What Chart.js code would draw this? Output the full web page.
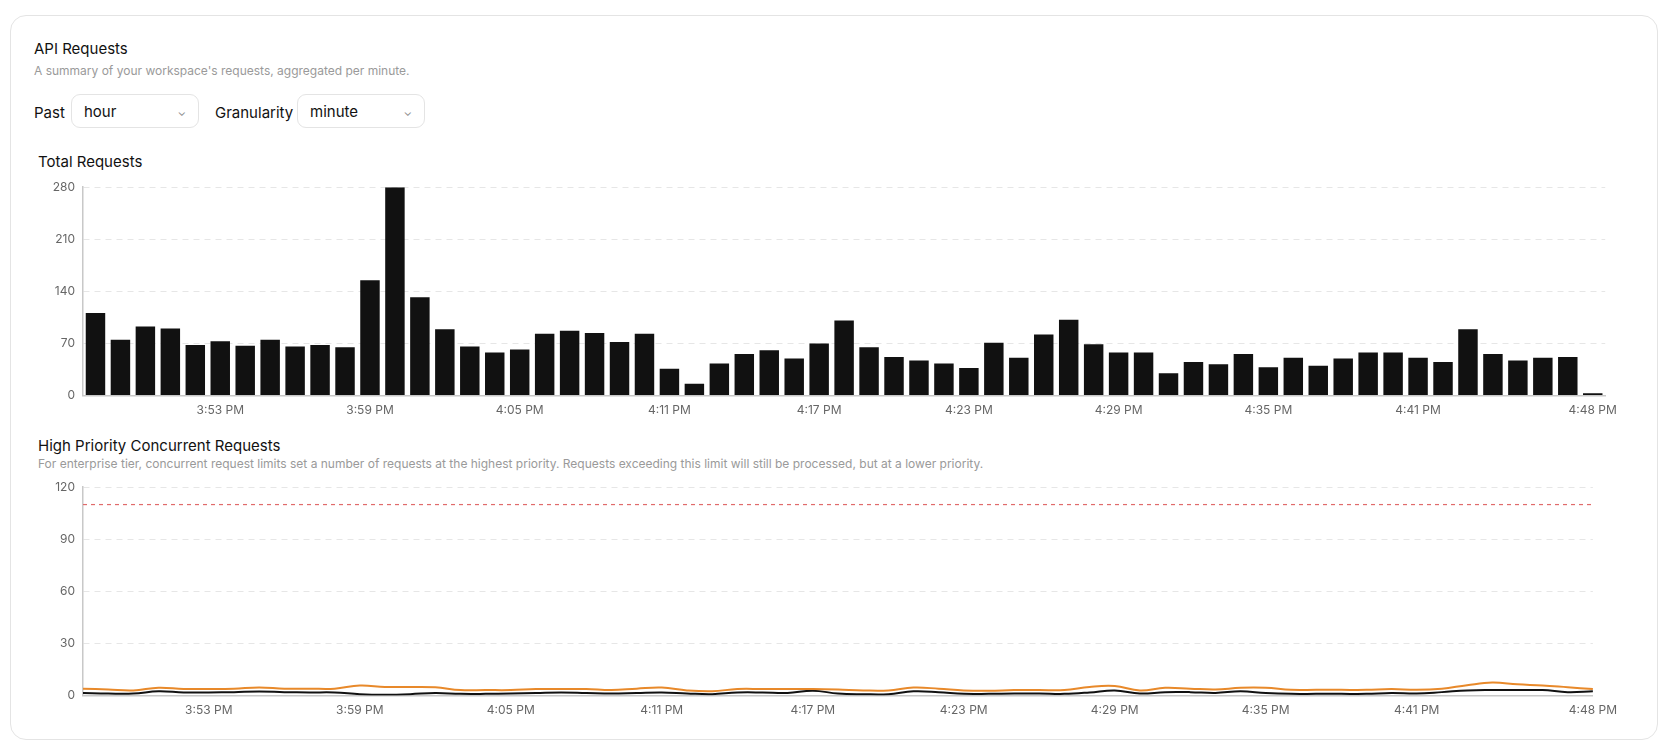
<!DOCTYPE html>
<html>
<head>
<meta charset="utf-8">
<script src="https://cdn.jsdelivr.net/npm/chart.js@4"></script>
<style>
  body { margin: 0; background: #fff; font-family: Inter, "Noto Sans", sans-serif; color: #111; }
  .card { position: absolute; left: 10px; top: 15px; width: 1646px; height: 723px; border: 1px solid #e4e4e4; border-radius: 16px; }
  .abs { position: absolute; white-space: nowrap; }
  .title { left: 34px; top: 39px; font-size: 15px; }
  .sub { left: 34px; top: 63px; font-size: 12px; color: #9a9a9a; }
  .lbl { font-size: 15px; top: 103px; }
  .sel { top: 94px; height: 34px; border: 1px solid #e4e4e4; border-radius: 9px; font-size: 15px; line-height: 34px; padding-left: 12px; box-sizing: border-box; }
  .sel span.chev { position: absolute; right: 12px; top: 0; color: #888; font-size: 11px; }
  .ctitle { font-size: 15px; }
</style>
</head>
<body>
<div class="card"></div>
<div class="abs title">API Requests</div>
<div class="abs sub">A summary of your workspace's requests, aggregated per minute.</div>
<div class="abs lbl" style="left:34px">Past</div>
<div class="abs sel" style="left:71px;width:128px">hour<span class="chev">&#8964;</span></div>
<div class="abs lbl" style="left:215px">Granularity</div>
<div class="abs sel" style="left:297px;width:128px">minute<span class="chev">&#8964;</span></div>
<div class="abs ctitle" style="left:38px;top:152px">Total Requests</div>
<div class="abs" style="left:30px;top:172px;width:1595px;height:254px"><canvas id="bars"></canvas></div>
<div class="abs ctitle" style="left:38px;top:436px">High Priority Concurrent Requests</div>
<div class="abs sub" style="left:38px;top:456px">For enterprise tier, concurrent request limits set a number of requests at the highest priority. Requests exceeding this limit will still be processed, but at a lower priority.</div>
<div class="abs" style="left:30px;top:472px;width:1595px;height:254px"><canvas id="lines"></canvas></div>
<script>
// ── Data ────────────────────────────────────────────
const MINUTES = [];
for (let m = 48; m <= 108; m++) {
  const h = 3 + Math.floor(m / 60), mm = m % 60;
  MINUTES.push(h + ":" + String(mm).padStart(2, "0") + " PM");
}
const TOTAL = [111,75,93,90,68,73,67,75,66,68,65,155,280,132,89,66,58,62,83,87,84,72,83,36,16,43,56,61,50,70,
  101,65,52,47,43,37,71,51,82,102,69,58,58,30,45,42,56,38,51,40,50,58,58,51,45,89,56,47,51,52,3];
const PRIORITY_A = [4,3.5,3,4.5,3.8,3.8,4,4.7,4,4,4,5.8,5,5,4.8,3.2,3.2,3.2,3.8,3.8,3.8,3.2,4,4.6,3,2.5,3.8,3.8,3.8,3.8,
  3.5,3,3,4.6,4,3,2.8,3.2,3.2,3.2,5,5.5,3,4.5,4,3.5,4.5,4.5,3.3,3.3,3.3,3.3,3.8,3.3,4,6,7.5,6.5,5.8,4.8,3.8];
const PRIORITY_B = [1.5,1.2,1.2,2.5,1.8,1.8,2,2.3,2,1.8,1.8,0.8,0.5,0.8,1.5,1,1,1.2,1.5,1.8,1.5,1.2,1.5,1.8,1.2,0.8,1.8,1.8,1.5,2.8,
  1.2,0.8,0.8,2.5,2,1,1,1.2,1.2,1,1.8,3,1.2,2,2,1.5,2.5,1.5,1,1,1,1,1.5,1.2,2,3,3.2,3.2,3.2,2,2.5];
const LIMIT = 110;
const Y1_TICKS = [0, 70, 140, 210, 280];
const Y2_TICKS = [0, 30, 60, 90, 120];

// ── Shared options ─────────────────────────────────
const tickFont = { family: "Inter", size: 12 };
function showTick(i) { return (i <= 53 && (i - 5) % 6 === 0) || i === MINUTES.length - 1; }

function xAxis(offset) {
  return {
    offset,
    grid: { display: false, drawTicks: false },
    border: { color: "#c8c8c8", width: 1.5 },
    ticks: { autoSkip: false, maxRotation: 0, color: "#666", font: tickFont, padding: 8,
      callback: (v, i) => showTick(i) ? MINUTES[i] : "" }
  };
}
function yAxis(ticks) {
  return {
    min: ticks[0], max: ticks[ticks.length - 1],
    afterBuildTicks: s => { s.ticks = ticks.map(v => ({ value: v })); },
    afterFit: s => { s.width = 53; },
    grid: { color: "#e6e6e6", drawTicks: false },
    border: { color: "#c8c8c8", dash: [6, 5], width: 1.5 },
    ticks: { color: "#666", font: tickFont, padding: 8 }
  };
}

new Chart(document.getElementById("bars"), {
  type: "bar",
  data: { labels: MINUTES, datasets: [{ data: TOTAL, backgroundColor: "#111", barPercentage: 0.78, categoryPercentage: 1 }] },
  options: {
    responsive: true, maintainAspectRatio: false, animation: false,
    layout: { padding: { top: 12, right: 15 } },
    plugins: { legend: { display: false }, tooltip: { enabled: false } },
    scales: { x: xAxis(true), y: yAxis(Y1_TICKS) }
  }
});

const limitLine = {
  id: "limitLine",
  afterDatasetsDraw(chart) {
    const { ctx, chartArea, scales } = chart;
    const y = scales.y.getPixelForValue(LIMIT);
    ctx.save();
    ctx.strokeStyle = "#e06b6b"; ctx.lineWidth = 1.2; ctx.setLineDash([4, 4]);
    ctx.beginPath(); ctx.moveTo(chartArea.left, y); ctx.lineTo(chartArea.right, y); ctx.stroke();
    ctx.restore();
  }
};

new Chart(document.getElementById("lines"), {
  type: "line",
  data: { labels: MINUTES, datasets: [
    { data: PRIORITY_A, borderColor: "#e8892a", borderWidth: 2, pointRadius: 0, tension: 0.4 },
    { data: PRIORITY_B, borderColor: "#111", borderWidth: 2, pointRadius: 0, tension: 0.4 }
  ] },
  options: {
    responsive: true, maintainAspectRatio: false, animation: false,
    layout: { padding: { top: 13, right: 15 } },
    plugins: { legend: { display: false }, tooltip: { enabled: false } },
    scales: { x: xAxis(false), y: yAxis(Y2_TICKS) }
  },
  plugins: [limitLine]
});
</script>
</body>
</html>
